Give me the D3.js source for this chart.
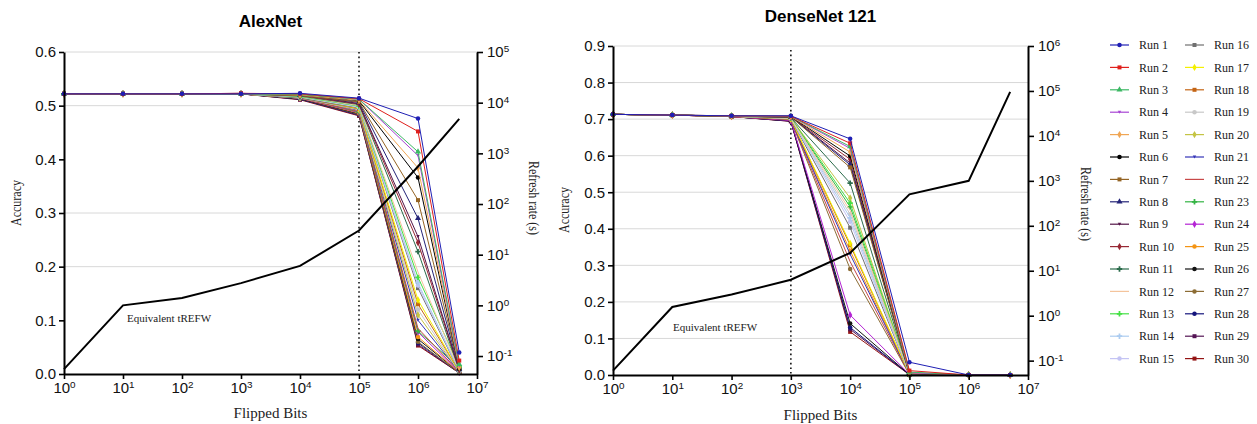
<!DOCTYPE html>
<html><head><meta charset="utf-8">
<script src="https://cdn.jsdelivr.net/npm/d3@7"></script>
<style>body{margin:0;background:#fff}svg{display:block}</style>
</head><body>
<svg id="chart" width="1257" height="424"></svg>
<script>
// ---- data ----
const flippedBits = [1, 10, 100, 1e3, 1e4, 1e5, 1e6, 5e6];
const xTicks = [1, 10, 100, 1e3, 1e4, 1e5, 1e6, 1e7];
const runNames = d3.range(1, 31).map(i => "Run " + i);
const runColors = [
  "#1f1fb4", "#e0201c", "#3cb864", "#a844d4", "#f0a654", "#000000", "#946424", "#242478",
  "#541448", "#982834", "#2c6c4c", "#f4c49c", "#44e044", "#acccf0", "#c4c4f4",
  "#707070", "#f4f000", "#c46414", "#c8c8c8", "#c4c444", "#3434b8", "#c84848", "#34b444",
  "#b424d4", "#f49414", "#141414", "#8c6c34", "#14147c", "#541454", "#941414"
];
const runSymbols = [
  "circle", "square", "triangle", "triangleDown", "diamond", "circle", "square", "triangle",
  "triangleDown", "diamond", "cross", "none", "cross", "cross", "circle",
  "square", "diamond", "square", "circle", "diamond", "triangleDown", "none", "cross",
  "diamond", "circle", "circle", "circle", "circle", "square", "square"
];

// AlexNet accuracy per run, one value per flipped-bit count
const alexAcc = [
  [0.522, 0.522, 0.522, 0.522, 0.523, 0.514, 0.476, 0.040],
  [0.522, 0.522, 0.522, 0.523, 0.522, 0.513, 0.452, 0.025],
  [0.522, 0.522, 0.522, 0.522, 0.521, 0.512, 0.414, 0.018],
  [0.522, 0.522, 0.522, 0.522, 0.522, 0.512, 0.407, 0.015],
  [0.522, 0.522, 0.522, 0.522, 0.520, 0.510, 0.384, 0.012],
  [0.522, 0.522, 0.522, 0.522, 0.521, 0.509, 0.366, 0.010],
  [0.522, 0.522, 0.522, 0.522, 0.519, 0.507, 0.324, 0.010],
  [0.522, 0.522, 0.522, 0.522, 0.520, 0.506, 0.290, 0.009],
  [0.522, 0.522, 0.522, 0.523, 0.520, 0.504, 0.256, 0.008],
  [0.522, 0.522, 0.522, 0.522, 0.519, 0.503, 0.245, 0.008],
  [0.522, 0.522, 0.522, 0.522, 0.518, 0.502, 0.228, 0.007],
  [0.522, 0.522, 0.522, 0.522, 0.518, 0.500, 0.190, 0.007],
  [0.522, 0.522, 0.522, 0.522, 0.517, 0.499, 0.180, 0.014],
  [0.522, 0.522, 0.522, 0.522, 0.517, 0.498, 0.170, 0.006],
  [0.522, 0.522, 0.522, 0.522, 0.516, 0.497, 0.165, 0.006],
  [0.522, 0.522, 0.522, 0.522, 0.514, 0.496, 0.160, 0.005],
  [0.522, 0.522, 0.522, 0.522, 0.515, 0.495, 0.138, 0.005],
  [0.522, 0.522, 0.522, 0.522, 0.515, 0.494, 0.130, 0.005],
  [0.522, 0.522, 0.522, 0.522, 0.514, 0.493, 0.120, 0.004],
  [0.522, 0.522, 0.522, 0.522, 0.515, 0.492, 0.110, 0.004],
  [0.522, 0.522, 0.522, 0.522, 0.516, 0.491, 0.100, 0.004],
  [0.522, 0.522, 0.522, 0.522, 0.514, 0.489, 0.085, 0.004],
  [0.522, 0.522, 0.522, 0.522, 0.515, 0.488, 0.080, 0.012],
  [0.522, 0.522, 0.522, 0.522, 0.514, 0.487, 0.078, 0.003],
  [0.522, 0.522, 0.522, 0.522, 0.514, 0.486, 0.069, 0.003],
  [0.522, 0.522, 0.522, 0.522, 0.513, 0.485, 0.065, 0.003],
  [0.522, 0.522, 0.522, 0.522, 0.513, 0.484, 0.060, 0.002],
  [0.522, 0.522, 0.522, 0.522, 0.512, 0.483, 0.058, 0.002],
  [0.522, 0.522, 0.522, 0.522, 0.512, 0.482, 0.055, 0.002],
  [0.522, 0.522, 0.522, 0.522, 0.511, 0.481, 0.053, 0.002]
];

// DenseNet 121 accuracy per run
const denseAcc = [
  [0.713, 0.711, 0.709, 0.709, 0.646, 0.035, 0.000, 0.000],
  [0.713, 0.711, 0.709, 0.708, 0.634, 0.012, 0.000, 0.000],
  [0.713, 0.711, 0.709, 0.708, 0.625, 0.008, 0.000, 0.000],
  [0.713, 0.711, 0.709, 0.708, 0.620, 0.006, 0.000, 0.000],
  [0.713, 0.711, 0.708, 0.707, 0.610, 0.005, 0.000, 0.000],
  [0.713, 0.711, 0.708, 0.707, 0.599, 0.005, 0.000, 0.000],
  [0.713, 0.711, 0.708, 0.706, 0.568, 0.004, 0.000, 0.000],
  [0.713, 0.711, 0.708, 0.706, 0.575, 0.004, 0.000, 0.000],
  [0.713, 0.711, 0.708, 0.706, 0.580, 0.004, 0.000, 0.000],
  [0.713, 0.711, 0.708, 0.706, 0.590, 0.004, 0.000, 0.000],
  [0.713, 0.711, 0.708, 0.704, 0.525, 0.003, 0.000, 0.000],
  [0.713, 0.711, 0.708, 0.702, 0.450, 0.003, 0.000, 0.000],
  [0.713, 0.711, 0.708, 0.703, 0.470, 0.003, 0.000, 0.000],
  [0.713, 0.711, 0.708, 0.702, 0.430, 0.003, 0.000, 0.000],
  [0.713, 0.711, 0.708, 0.702, 0.419, 0.003, 0.000, 0.000],
  [0.713, 0.711, 0.708, 0.701, 0.403, 0.003, 0.000, 0.000],
  [0.713, 0.711, 0.708, 0.700, 0.360, 0.002, 0.000, 0.000],
  [0.713, 0.711, 0.708, 0.700, 0.355, 0.002, 0.000, 0.000],
  [0.713, 0.711, 0.708, 0.702, 0.440, 0.002, 0.000, 0.000],
  [0.713, 0.711, 0.708, 0.703, 0.484, 0.002, 0.000, 0.000],
  [0.713, 0.711, 0.708, 0.699, 0.330, 0.002, 0.000, 0.000],
  [0.713, 0.711, 0.707, 0.698, 0.310, 0.002, 0.000, 0.000],
  [0.713, 0.711, 0.708, 0.703, 0.460, 0.000, 0.000, 0.000],
  [0.713, 0.711, 0.707, 0.696, 0.164, 0.002, 0.000, 0.000],
  [0.713, 0.711, 0.707, 0.699, 0.340, 0.002, 0.000, 0.000],
  [0.713, 0.711, 0.707, 0.695, 0.141, 0.001, 0.000, 0.000],
  [0.713, 0.711, 0.707, 0.697, 0.290, 0.001, 0.000, 0.000],
  [0.713, 0.711, 0.707, 0.695, 0.130, 0.001, 0.000, 0.000],
  [0.713, 0.711, 0.707, 0.694, 0.125, 0.001, 0.000, 0.000],
  [0.713, 0.711, 0.707, 0.694, 0.118, 0.001, 0.000, 0.000]
];

// equivalent refresh window (seconds), one value per flipped-bit count
const alexRefresh = [0.055, 1.0, 1.4, 2.75, 6, 30, 550, 4800];
const denseRefresh = [0.06, 1.56, 2.95, 6.3, 25, 500, 1000, 95000];

const alexAccTicks = [0, 0.1, 0.2, 0.3, 0.4, 0.5, 0.6];
const alexGridLines = [0.2, 0.3, 0.5, 0.6];
const alexRefreshTicks = [0.1, 1, 10, 100, 1e3, 1e4, 1e5];
const denseAccTicks = [0, 0.1, 0.2, 0.3, 0.4, 0.5, 0.6, 0.7, 0.8, 0.9];
const denseGridLines = [0.1, 0.2, 0.3, 0.4, 0.5, 0.6, 0.7, 0.8, 0.9];
const denseRefreshTicks = [0.1, 1, 10, 100, 1e3, 1e4, 1e5, 1e6];

// ---- drawing ----
const svg = d3.select("#chart");
const SANS = "'Liberation Sans', Arial, sans-serif";
const SERIF = "'Liberation Serif', 'Times New Roman', serif";

const triDown = {
  draw(ctx, size) {
    const s = Math.sqrt(size / (Math.sqrt(3) * 0.75));
    const h = s * Math.sqrt(3) / 2;
    ctx.moveTo(-s / 2, -h / 2);
    ctx.lineTo(s / 2, -h / 2);
    ctx.lineTo(0, h / 2);
    ctx.closePath();
  }
};
const symbolTypes = {
  circle: d3.symbolCircle, square: d3.symbolSquare, triangle: d3.symbolTriangle,
  triangleDown: triDown, diamond: d3.symbolDiamond, cross: d3.symbolCross
};
function markerPath(name, size) {
  if (name === "none") return null;
  return d3.symbol(symbolTypes[name], size)();
}

function powLabel(textSel, v) {
  const e = Math.round(Math.log10(v));
  textSel.text(null);
  textSel.append("tspan").text("10");
  textSel.append("tspan").attr("dy", "-0.5em").attr("font-size", "0.66em").text(e);
}

function drawPanel(cfg) {
  const x = d3.scaleLog().domain([1, 1e7]).range([cfg.left, cfg.right]);
  const y = d3.scaleLinear().domain([0, cfg.accMax]).range([cfg.bottom, cfg.top]);
  const yR = d3.scaleLog().domain(cfg.refreshDomain).range([cfg.bottom, cfg.top]);
  const g = svg.append("g");

  // horizontal grid
  g.append("g").selectAll("line").data(cfg.grid).join("line")
    .attr("x1", cfg.left).attr("x2", cfg.right)
    .attr("y1", d => y(d)).attr("y2", d => y(d))
    .attr("stroke", "#d8d8d8").attr("stroke-width", 1);

  // dotted marker line
  g.append("line")
    .attr("x1", x(cfg.dotAt)).attr("x2", x(cfg.dotAt))
    .attr("y1", cfg.dotTop).attr("y2", cfg.bottom)
    .attr("stroke", "#111").attr("stroke-width", 1.6).attr("stroke-dasharray", "1.6,3");

  // run lines, last run first so Run 1 sits on top
  const line = d3.line().x(d => x(d[0])).y(d => y(d[1]));
  const runs = cfg.acc.map((vals, i) => ({ i, pts: vals.map((v, k) => [flippedBits[k], v]) }));
  const runG = g.append("g").selectAll("g").data(runs.slice().reverse()).join("g");
  runG.append("path")
    .attr("d", d => line(d.pts))
    .attr("fill", "none")
    .attr("stroke", d => runColors[d.i])
    .attr("stroke-width", 1);
  runG.each(function (d) {
    const p = markerPath(runSymbols[d.i], 16);
    if (!p) return;
    d3.select(this).selectAll("path.m").data(d.pts).join("path")
      .attr("class", "m")
      .attr("d", p)
      .attr("transform", q => `translate(${x(q[0])},${y(q[1])})`)
      .attr("fill", runColors[d.i]);
  });

  // refresh-window curve on the right axis
  const rline = d3.line().x((d, k) => x(flippedBits[k])).y(d => yR(d));
  g.append("path").attr("d", rline(cfg.refresh))
    .attr("fill", "none").attr("stroke", "#000").attr("stroke-width", 2);

  g.append("text")
    .attr("x", cfg.noteX).attr("y", cfg.noteY)
    .attr("font-family", SERIF).attr("font-size", 11).attr("fill", "#222")
    .text("Equivalent tREFW");

  // axes
  const axL = g.append("g").attr("transform", `translate(${cfg.left},0)`)
    .call(d3.axisLeft(y).tickValues(cfg.accTicks).tickFormat(d3.format(".1f")).tickSize(5).tickSizeOuter(0));
  const axB = g.append("g").attr("transform", `translate(0,${cfg.bottom})`)
    .call(d3.axisBottom(x).tickValues(xTicks).tickSize(5).tickSizeOuter(0));
  axB.selectAll(".tick text").each(function (d) { powLabel(d3.select(this), d); });
  const axR = g.append("g").attr("transform", `translate(${cfg.right},0)`)
    .call(d3.axisRight(yR).tickValues(cfg.refreshTicks).tickSize(6).tickSizeOuter(0));
  axR.selectAll(".tick text").each(function (d) { powLabel(d3.select(this), d); });

  [axL, axB, axR].forEach(a => {
    a.select(".domain").attr("stroke", "#000").attr("stroke-width", 2);
    a.selectAll(".tick line").attr("stroke", "#000").attr("stroke-width", 1.6);
    a.selectAll(".tick text").attr("font-family", SANS).attr("font-size", 15).attr("fill", "#111");
  });
  axR.selectAll(".tick text").attr("x", 10);

  // titles and axis captions
  g.append("text").attr("x", (cfg.left + cfg.right) / 2).attr("y", cfg.titleY)
    .attr("text-anchor", "middle").attr("font-family", SANS).attr("font-weight", "bold")
    .attr("font-size", 17).text(cfg.title);
  g.append("text").attr("x", (cfg.left + cfg.right) / 2).attr("y", cfg.xLabelY)
    .attr("text-anchor", "middle").attr("font-family", SERIF).attr("font-size", 15)
    .attr("fill", "#222").text("Flipped Bits");
  g.append("text")
    .attr("transform", `translate(${cfg.accLabelX},${cfg.accLabelY}) scale(1.25,1) rotate(-90)`)
    .attr("text-anchor", "middle").attr("dominant-baseline", "middle")
    .attr("font-family", SERIF).attr("font-size", 12).attr("fill", "#222").text("Accuracy");
  g.append("text")
    .attr("transform", `translate(${cfg.rrLabelX},${cfg.rrLabelY}) scale(1.25,1) rotate(90)`)
    .attr("text-anchor", "middle").attr("dominant-baseline", "middle")
    .attr("font-family", SERIF).attr("font-size", 12).attr("fill", "#222").text("Refresh rate (s)");
}

drawPanel({
  title: "AlexNet", titleY: 27,
  left: 64, right: 477, top: 52, bottom: 374,
  accMax: 0.6, accTicks: alexAccTicks, grid: alexGridLines,
  refreshDomain: [0.0442, 1e5], refreshTicks: alexRefreshTicks,
  acc: alexAcc, refresh: alexRefresh,
  dotAt: 1e5, dotTop: 52,
  noteX: 127, noteY: 322,
  xLabelY: 418, accLabelX: 18, accLabelY: 203, rrLabelX: 532, rrLabelY: 198
});

drawPanel({
  title: "DenseNet 121", titleY: 22,
  left: 613, right: 1028, top: 46, bottom: 375,
  accMax: 0.9, accTicks: denseAccTicks, grid: denseGridLines,
  refreshDomain: [0.0479, 1e6], refreshTicks: denseRefreshTicks,
  acc: denseAcc, refresh: denseRefresh,
  dotAt: 1e3, dotTop: 50,
  noteX: 673, noteY: 331,
  xLabelY: 420, accLabelX: 566, accLabelY: 210, rrLabelX: 1084, rrLabelY: 204
});

// legend: two columns of fifteen runs
const legend = svg.append("g");
const legItems = legend.selectAll("g").data(runNames).join("g")
  .attr("transform", (d, i) => `translate(${i < 15 ? 1110 : 1185},${45 + (i % 15) * 22.4})`);
legItems.append("line").attr("x1", 0).attr("x2", 19).attr("y1", 0).attr("y2", 0)
  .attr("stroke", (d, i) => runColors[i]).attr("stroke-width", 1.2);
legItems.each(function (d, i) {
  const p = markerPath(runSymbols[i], 16);
  if (p) d3.select(this).append("path").attr("d", p)
    .attr("transform", "translate(9.5,0)").attr("fill", runColors[i]);
});
legItems.append("text").attr("x", 29).attr("y", 0).attr("dy", "0.35em")
  .attr("font-family", SERIF).attr("font-size", 12).attr("fill", "#222")
  .text(d => d);
</script>
</body></html>
